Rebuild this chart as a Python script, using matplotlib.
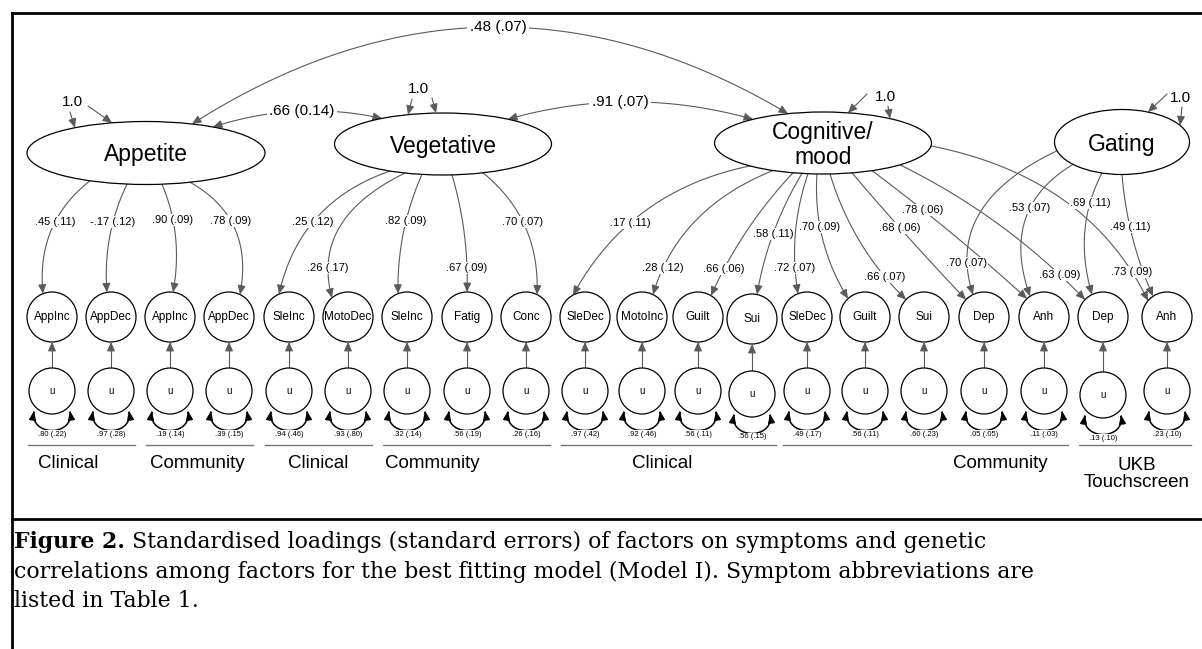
import numpy as np
import matplotlib.pyplot as plt
from matplotlib.patches import Ellipse, Circle, FancyArrowPatch
from matplotlib.path import Path

plt.rcParams['font.family'] = ['Liberation Sans', 'DejaVu Sans']

# ---- values ----
factors = ['Appetite', 'Vegetative', 'Cognitive/\nmood', 'Gating']
factor_var = ['1.0', '1.0', '1.0', '1.0']
symptoms = ['AppInc', 'AppDec', 'AppInc', 'AppDec', 'SleInc', 'MotoDec', 'SleInc', 'Fatig', 'Conc',
            'SleDec', 'MotoInc', 'Guilt', 'Sui', 'SleDec', 'Guilt', 'Sui', 'Dep', 'Anh', 'Dep', 'Anh']
residuals = ['.80 (.22)', '.97 (.28)', '.19 (.14)', '.39 (.15)', '.94 (.46)', '.93 (.80)', '.32 (.14)',
             '.56 (.19)', '.26 (.16)', '.97 (.42)', '.92 (.46)', '.56 (.11)', '.56 (.15)', '.49 (.17)',
             '.56 (.11)', '.60 (.23)', '.05 (.05)', '.11 (.03)', '.13 (.10)', '.23 (.10)']
load_factor = [0, 0, 0, 0, 1, 1, 1, 1, 1, 2, 2, 2, 2, 2, 2, 2, 2, 2, 2, 2, 3, 3, 3, 3]
load_symptom = [0, 1, 2, 3, 4, 5, 6, 7, 8, 9, 10, 11, 12, 13, 14, 15, 16, 17, 18, 19, 16, 17, 18, 19]
load_text = ['.45 (.11)', '-.17 (.12)', '.90 (.09)', '.78 (.09)',
             '.25 (.12)', '.26 (.17)', '.82 (.09)', '.67 (.09)', '.70 (.07)',
             '.17 (.11)', '.28 (.12)', '.66 (.06)', '.58 (.11)', '.72 (.07)', '.70 (.09)',
             '.66 (.07)', '.68 (.06)', '.78 (.06)', '.63 (.09)', '.73 (.09)',
             '.70 (.07)', '.53 (.07)', '.69 (.11)', '.49 (.11)']
corr_pairs = [(0, 2), (0, 1), (1, 2)]
corr_text = ['.48 (.07)', '.66 (0.14)', '.91 (.07)']
groups = ['Clinical', 'Community', 'Clinical', 'Community', 'Clinical', 'Community', 'UKB\nTouchscreen']
group_members = [(0, 1), (2, 3), (4, 5), (6, 8), (9, 12), (13, 17), (18, 19)]
caption_bold = 'Figure 2.'
caption = [' Standardised loadings (standard errors) of factors on symptoms and genetic',
           'correlations among factors for the best fitting model (Model I). Symptom abbreviations are',
           'listed in Table 1.']

# ---- layout (pixels, y down) ----
fac_xy = [(146, 153), (443, 144), (823, 143), (1122, 142)]
fac_wh = [(238, 63), (217, 62), (217, 62), (135, 65)]
obs_x = [52, 111, 170, 229, 289, 348, 407, 467, 526, 585, 642, 698, 752, 807, 865, 924, 984, 1044, 1103, 1167]
obs_dy = [0] * 20
obs_dy[12] = 2
u_dy = [0] * 20
u_dy[12] = 3
u_dy[18] = 4
OBS_Y, OBS_R = 317, 25
U_Y, U_R = 391, 23
load_x0 = [90, 127, 162, 190, 390, 405, 422, 452, 483,
           750, 773, 793, 802, 808, 817, 830, 852, 872, 900, 931, 1057, 1073, 1102, 1122]
load_dx1 = [-9, -4, 3, 11, -10, -16, -9, 0, 11,
            -12, 11, 13, 5, -9, -17, -18, -18, -17, -18, -19, -11, -14, -11, -14]
load_lab = [(55, 222), (113, 222), (173, 220), (231, 221),
            (313, 222), (328, 268), (406, 221), (467, 268), (523, 222),
            (630, 223), (663, 268), (724, 269), (773, 234), (795, 268), (820, 227),
            (885, 277), (900, 228), (923, 210), (1060, 275), (1132, 272),
            (967, 263), (1030, 208), (1090, 203), (1130, 227)]
corr_x = [(192, 788), (213, 382), (508, 753)]
corr_lab = [(498, 27), (302, 111), (620, 102)]
var_lab = [(72, 102), (418, 89), (885, 97), (1180, 98)]
var_arrows = [[((70, 112), 75), ((88, 106), 112)],
              [((412, 99), 408), ((432, 98), 436)],
              [((867, 94), 848), ((888, 106), 890)],
              [((1167, 94), 1148), ((1182, 107), 1180)]]
group_lab_x = [68, 197, 318, 432, 662, 1000, 1137]

GREY = '#5a5a5a'
HEAD = '-|>,head_length=0.45,head_width=0.2'

fig = plt.figure(figsize=(12.02, 6.49), dpi=100)
ax = fig.add_axes([0, 0, 1, 1])
ax.set_xlim(0, 1202)
ax.set_ylim(649, 0)
ax.axis('off')


def ell_edge(i, x, top=True):
    cx, cy = fac_xy[i]
    w, h = fac_wh[i]
    u = min(abs(x - cx) / (w / 2), 1.0)
    d = h / 2 * np.sqrt(1 - u ** 2)
    return (x, cy - d if top else cy + d)


def curve_through(p0, pm, p2, n=80):
    # quadratic bezier from p0 to p2 that passes through pm
    p0, pm, p2 = np.array(p0, float), np.array(pm, float), np.array(p2, float)
    d0 = np.hypot(*(pm - p0))
    d2 = np.hypot(*(p2 - pm))
    tm = d0 / (d0 + d2)
    c = (pm - (1 - tm) ** 2 * p0 - tm ** 2 * p2) / (2 * tm * (1 - tm))
    t = np.linspace(0, 1, n)[:, None]
    return (1 - t) ** 2 * p0 + 2 * t * (1 - t) * c + t ** 2 * p2


def draw_path(pts, style=HEAD, color=GREY, lw=0.8, ms=12):
    ax.add_patch(FancyArrowPatch(path=Path(pts), arrowstyle=style, mutation_scale=ms,
                                 color=color, lw=lw, zorder=2))


def label(x, y, s, fs, pad=0.6):
    ax.text(x, y, s, ha='center', va='center', fontsize=fs, zorder=6,
            bbox=dict(fc='white', ec='none', pad=pad))


# latent factors
for i, name in enumerate(factors):
    ax.add_patch(Ellipse(fac_xy[i], fac_wh[i][0], fac_wh[i][1], fc='white', ec='black', lw=0.9, zorder=3))
    ax.text(fac_xy[i][0], fac_xy[i][1] + 2, name, ha='center', va='center', fontsize=16.5,
            multialignment='center', linespacing=1.15, zorder=4)
    ax.text(var_lab[i][0], var_lab[i][1], factor_var[i], ha='center', va='center', fontsize=11, zorder=4)
    for (p0, x1) in var_arrows[i]:
        p1 = ell_edge(i, x1)
        draw_path(np.array([p0, p1], float))

# correlations between factors
for k, (a, b) in enumerate(corr_pairs):
    p0 = ell_edge(a, corr_x[k][0])
    p2 = ell_edge(b, corr_x[k][1])
    draw_path(curve_through(p0, corr_lab[k], p2), style=HEAD.replace('-|>', '<|-|>'))
    label(corr_lab[k][0], corr_lab[k][1], corr_text[k], 11, pad=1.5)

# observed symptoms and their residuals
for j, name in enumerate(symptoms):
    x = obs_x[j]
    oy = OBS_Y + obs_dy[j]
    uy = U_Y + u_dy[j]
    ax.add_patch(Circle((x, oy), OBS_R, fc='white', ec='black', lw=0.9, zorder=3))
    ax.text(x, oy, name, ha='center', va='center', fontsize=8.5, zorder=4)
    ax.add_patch(Circle((x, uy), U_R, fc='white', ec='black', lw=0.9, zorder=3))
    ax.text(x, uy, 'u', ha='center', va='center', fontsize=7, zorder=4)
    draw_path(np.array([(x, uy - U_R), (x, oy + OBS_R)], float))
    a = np.array([x - 18, uy + 20], float)
    b = np.array([x + 18, uy + 20], float)
    c1 = a + [-5, 26]
    c2 = b + [5, 26]
    t = np.linspace(0, 1, 80)[:, None]
    arc = (1 - t) ** 3 * a + 3 * (1 - t) ** 2 * t * c1 + 3 * (1 - t) * t ** 2 * c2 + t ** 3 * b
    draw_path(arc, style='<|-|>,head_length=0.5,head_width=0.2', color='black', lw=1.1, ms=10)
    label(x, uy + 43, residuals[j], 5.5, pad=0.4)

# factor loadings
for k in range(len(load_text)):
    f = load_factor[k]
    j = load_symptom[k]
    p0 = ell_edge(f, load_x0[k], top=False)
    dx = load_dx1[k]
    oy = OBS_Y + obs_dy[j]
    p2 = (obs_x[j] + dx, oy - np.sqrt(OBS_R ** 2 - dx ** 2))
    draw_path(curve_through(p0, load_lab[k], p2))
    label(load_lab[k][0], load_lab[k][1], load_text[k], 8)

# sample groups
for g, (a, b) in enumerate(group_members):
    ax.plot([obs_x[a] - 24, obs_x[b] + 24], [445, 445], color='#777777', lw=1.0)
    ax.text(group_lab_x[g], 463 if '\n' not in groups[g] else 474, groups[g], ha='center', va='center',
            fontsize=13.5, linespacing=1.05)

# frame
ax.plot([12, 12], [13, 649], color='black', lw=2.0, solid_capstyle='projecting')
ax.plot([12, 1202], [13, 13], color='black', lw=2.0, solid_capstyle='projecting')
ax.plot([12, 1202], [519, 519], color='black', lw=2.0)

# caption
cap_y = [548, 578, 607]
fs = 14
serif = ['DejaVu Serif']
t_bold = ax.text(14, cap_y[0], caption_bold, fontsize=fs, fontweight='bold', family=serif, va='baseline')
t_lines = [ax.text(14, cap_y[i], caption[i], fontsize=fs, family=serif, va='baseline') for i in range(3)]
renderer = fig.canvas.get_renderer()
inv = ax.transData.inverted()
for _ in range(3):
    bb = t_bold.get_window_extent(renderer)
    t_lines[0].set_x(inv.transform((bb.x1, bb.y0))[0])
    r1 = inv.transform((t_lines[0].get_window_extent(renderer).x1, 0))[0]
    r2 = inv.transform((t_lines[1].get_window_extent(renderer).x1, 0))[0]
    fs *= 0.5 * ((1006 - 14) / (r1 - 14) + (1012 - 14) / (r2 - 14))
    for t in [t_bold] + t_lines:
        t.set_fontsize(fs)
bb = t_bold.get_window_extent(renderer)
t_lines[0].set_x(inv.transform((bb.x1, bb.y0))[0])

fig.savefig('out.png', dpi=100)
